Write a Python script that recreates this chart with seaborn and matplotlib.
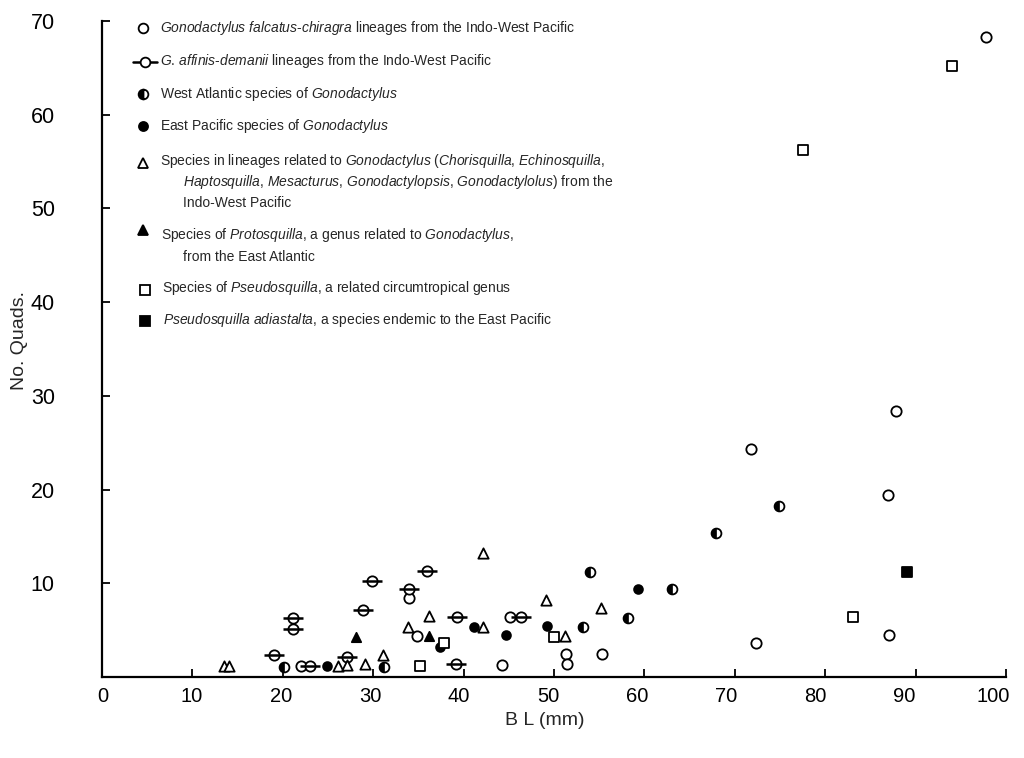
import numpy as np
import matplotlib.pyplot as plt
from matplotlib import font_manager
from matplotlib.markers import MarkerStyle
from matplotlib.lines import Line2D
from matplotlib.transforms import ScaledTranslation
import seaborn as sns

# --- data: body length (mm) vs. number of quads ---
# Gonodactylus falcatus-chiragra lineages (open circle)
falcatus_bl = [22.0, 34.0, 34.8, 44.2, 45.1, 51.3, 51.4, 55.3, 71.8, 72.3, 86.9, 87.1, 87.8, 97.8]
falcatus_quads = [1.2, 8.4, 4.4, 1.3, 6.4, 2.5, 1.4, 2.5, 24.3, 3.6, 19.4, 4.5, 28.4, 68.3]

# G. affinis-demanii lineages (circle with bar)
affinis_bl = [19.0, 21.1, 21.1, 23.0, 27.1, 28.9, 29.9, 34.0, 36.0, 39.2, 39.3, 46.3]
affinis_quads = [2.3, 6.3, 5.1, 1.2, 2.1, 7.2, 10.2, 9.4, 11.3, 1.4, 6.4, 6.4]

# West Atlantic Gonodactylus (half filled circle)
watl_bl = [20.1, 31.2, 53.2, 54.0, 58.2, 63.0, 67.9, 74.9]
watl_quads = [1.1, 1.1, 5.3, 11.2, 6.3, 9.4, 15.4, 18.2]

# East Pacific Gonodactylus (filled circle)
epac_bl = [24.9, 37.4, 41.1, 44.7, 49.2, 59.3]
epac_quads = [1.2, 3.2, 5.3, 4.5, 5.4, 9.4]

# related lineages (open triangle)
related_bl = [13.5, 14.1, 26.1, 27.1, 29.1, 31.1, 33.9, 36.2, 42.1, 42.2, 49.1, 51.2, 55.2]
related_quads = [1.2, 1.2, 1.2, 1.3, 1.4, 2.3, 5.3, 6.5, 5.3, 13.2, 8.2, 4.4, 7.4]

# Protosquilla (filled triangle)
proto_bl = [28.1, 36.2]
proto_quads = [4.3, 4.4]

# Pseudosquilla (open square)
pseudo_bl = [35.2, 37.8, 50.0, 77.5, 83.1, 94.0]
pseudo_quads = [1.2, 3.6, 4.3, 56.2, 6.4, 65.2]

# Pseudosquilla adiastalta (filled square)
adiast_bl = [89.1]
adiast_quads = [11.2]

x_ticks = list(range(0, 101, 10))
y_ticks = list(range(10, 71, 10))

sns.set_style("ticks")
installed = {f.name for f in font_manager.fontManager.ttflist}
legend_font = "Liberation Sans Narrow" if "Liberation Sans Narrow" in installed else "Liberation Sans"
plt.rcParams["font.family"] = ["Liberation Sans", "DejaVu Sans"]
plt.rcParams["mathtext.fontset"] = "custom"
plt.rcParams["mathtext.rm"] = legend_font
plt.rcParams["mathtext.it"] = legend_font + ":italic"

fig = plt.figure(figsize=(10.24, 7.58), dpi=100)
ax = fig.add_axes([102 / 1024, 1 - 677 / 758, (1006 - 102) / 1024, (677 - 21) / 758])

K = "black"
LW = 1.3


def open_pts(x, y, marker, s):
    sns.scatterplot(x=x, y=y, marker=marker, s=s, color="white", facecolor="white",
                    edgecolor=K, linewidth=LW, ax=ax, zorder=3)


def filled_pts(x, y, marker, s):
    sns.scatterplot(x=x, y=y, marker=marker, s=s, color=K, edgecolor=K,
                    linewidth=LW, ax=ax, zorder=3)


open_pts(falcatus_bl, falcatus_quads, "o", 55)

open_pts(affinis_bl, affinis_quads, "o", 55)
sns.scatterplot(x=affinis_bl, y=affinis_quads, marker="_", s=190, color=K,
                linewidth=1.8, ax=ax, zorder=4)

open_pts(watl_bl, watl_quads, "o", 50)
sns.scatterplot(x=watl_bl, y=watl_quads, marker=MarkerStyle("o", fillstyle="left"), s=50,
                color=K, edgecolor=K, linewidth=0.5, ax=ax, zorder=4)

filled_pts(epac_bl, epac_quads, "o", 40)
open_pts(related_bl, related_quads, "^", 55)
filled_pts(proto_bl, proto_quads, "^", 45)
open_pts(pseudo_bl, pseudo_quads, "s", 45)
filled_pts(adiast_bl, adiast_quads, "s", 45)

ax.set_xlim(0, 100)
ax.set_ylim(0, 70)
ax.set_xticks(x_ticks)
ax.set_yticks(y_ticks)
ax.tick_params(direction="in", length=6, width=1.3, colors=K)
ax.tick_params(axis="y", pad=34, labelsize=15.5)
ax.tick_params(axis="x", pad=7, labelsize=14.5)
# the printed x labels drift slightly left of their ticks
for v, lab in zip(x_ticks, ax.get_xticklabels()):
    dx = (1 - 0.14 * v) / 100
    lab.set_transform(lab.get_transform() + ScaledTranslation(dx, 0, fig.dpi_scale_trans))
for side in ["top", "right"]:
    ax.spines[side].set_visible(False)
for side in ["left", "bottom"]:
    ax.spines[side].set_linewidth(1.6)
    ax.spines[side].set_color(K)

ax.set_xlabel("B L (mm)", fontsize=14)
ax.set_ylabel("No. Quads.", fontsize=14)
ax.xaxis.set_label_coords((545 - 102) / 904, (677 - 712) / 656)
ax.yaxis.set_label_coords((28 - 102) / 904, (677 - 340) / 656)


# --- hand-made key, placed in figure pixels ---
def fxy(px, py):
    return px / 1024, 1 - py / 758


def it(s):
    return r"$\it{" + s.replace(" ", r"\ ") + "}$"


def key_marker(px, py, **kw):
    x, y = fxy(px, py)
    fig.add_artist(Line2D([x], [y], transform=fig.transFigure, color=K, linestyle="none", **kw))


def key_text(px, py, s):
    x, y = fxy(px, py)
    fig.text(x, y, s, fontsize=10, family=legend_font, ha="left", va="center")


key_marker(143, 28, marker="o", markersize=7, mfc="white", mew=LW)
key_text(160, 28, it("Gonodactylus falcatus") + "-" + it("chiragra") + " lineages from the Indo-West Pacific")

x0, y0 = fxy(133, 62)
x1, _ = fxy(157, 62)
fig.add_artist(Line2D([x0, x1], [y0, y0], transform=fig.transFigure, color=K, lw=1.8))
key_marker(145, 62, marker="o", markersize=7, mfc="white", mew=LW)
key_text(160, 61, it("G") + ". " + it("affinis") + "-" + it("demanii") + " lineages from the Indo-West Pacific")

key_marker(143, 94, marker="o", markersize=7, fillstyle="left", mfc=K, mfcalt="white", mew=LW)
key_text(160, 94, "West Atlantic species of " + it("Gonodactylus"))

key_marker(143, 126, marker="o", markersize=6.5, mfc=K, mew=LW)
key_text(160, 126, "East Pacific species of " + it("Gonodactylus"))

key_marker(143, 163, marker="^", markersize=7.5, mfc="white", mew=LW)
key_text(160, 161, "Species in lineages related to " + it("Gonodactylus (Chorisquilla") + ", "
         + it("Echinosquilla") + ",")
key_text(183, 182, it("Haptosquilla") + ", " + it("Mesacturus") + ", " + it("Gonodactylopsis") + ", "
         + it("Gonodactylolus)") + " from the")
key_text(183, 203, "Indo-West Pacific")

key_marker(143, 230, marker="^", markersize=7, mfc=K, mew=LW)
key_text(161, 235, "Species of " + it("Protosquilla") + ", a genus related to " + it("Gonodactylus") + ",")
key_text(183, 257, "from the East Atlantic")

key_marker(145, 290, marker="s", markersize=7, mfc="white", mew=LW)
key_text(162, 288, "Species of " + it("Pseudosquilla") + ", a related circumtropical genus")

key_marker(145, 321, marker="s", markersize=7, mfc=K, mew=LW)
key_text(163, 320, it("Pseudosquilla adiastalta") + ", a species endemic to the East Pacific")

fig.savefig("out.png", dpi=100)
